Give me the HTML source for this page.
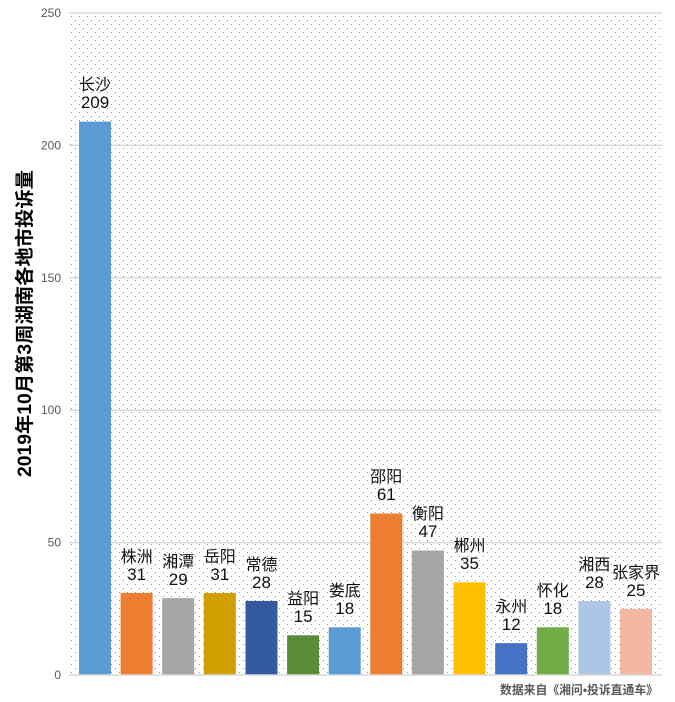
<!DOCTYPE html>
<html><head><meta charset="utf-8"><style>
html,body{margin:0;padding:0;background:#fff;}
svg{display:block;font-family:"Liberation Sans","Noto Sans CJK SC",sans-serif;}
</style></head><body>
<svg width="675" height="702" viewBox="0 0 675 702" xmlns="http://www.w3.org/2000/svg">
<defs>
<pattern id="dots" x="0" y="0" width="8" height="8" patternUnits="userSpaceOnUse">
<rect x="7" y="0" width="1" height="1" fill="#6a98d6"/>
<rect x="3" y="4" width="1" height="1" fill="#6a98d6"/>
</pattern>
</defs>
<rect x="0" y="0" width="675" height="702" fill="#fff"/>
<rect x="69" y="14" width="593" height="661" fill="url(#dots)"/>
<g stroke="#d9d9d9" stroke-width="1.5">
<line x1="69" y1="13" x2="662" y2="13"/>
<line x1="69" y1="145.4" x2="662" y2="145.4"/>
<line x1="69" y1="277.8" x2="662" y2="277.8"/>
<line x1="69" y1="410.2" x2="662" y2="410.2"/>
<line x1="69" y1="542.6" x2="662" y2="542.6"/>
</g>
<g font-size="12" fill="#595959" text-anchor="end">
<text x="61" y="17">250</text>
<text x="61" y="149.4">200</text>
<text x="61" y="281.8">150</text>
<text x="61" y="414.2">100</text>
<text x="61" y="546.6">50</text>
<text x="61" y="679">0</text>
</g>
<g>
<rect x="79" y="121.6" width="32" height="553.4" fill="#5b9bd5"/>
<rect x="120.6" y="592.9" width="32" height="82.1" fill="#ed7d31"/>
<rect x="162.2" y="598.2" width="32" height="76.8" fill="#a5a5a5"/>
<rect x="203.8" y="592.9" width="32" height="82.1" fill="#d29f00"/>
<rect x="245.5" y="600.9" width="32" height="74.1" fill="#335aa0"/>
<rect x="287.1" y="635.3" width="32" height="39.7" fill="#5a8c3a"/>
<rect x="328.7" y="627.3" width="32" height="47.7" fill="#5b9bd5"/>
<rect x="370.3" y="513.5" width="32" height="161.5" fill="#ed7d31"/>
<rect x="411.9" y="550.5" width="32" height="124.5" fill="#a5a5a5"/>
<rect x="453.5" y="582.3" width="32" height="92.7" fill="#ffc000"/>
<rect x="495.2" y="643.2" width="32" height="31.8" fill="#4472c4"/>
<rect x="536.8" y="627.3" width="32" height="47.7" fill="#70ad47"/>
<rect x="578.4" y="600.9" width="32" height="74.1" fill="#adc6e6"/>
<rect x="620" y="608.8" width="32" height="66.2" fill="#f4b8a2"/>
</g>
<line x1="69" y1="675" x2="662" y2="675" stroke="#d9d9d9" stroke-width="1.5"/>
<g font-size="16" fill="#111" text-anchor="middle">
<text x="95" y="90">长沙</text>
<text x="136.6" y="562">株洲</text>
<text x="178.2" y="567">湘潭</text>
<text x="219.8" y="562">岳阳</text>
<text x="261.5" y="570">常德</text>
<text x="303.1" y="604">益阳</text>
<text x="344.7" y="596">娄底</text>
<text x="386.3" y="482">邵阳</text>
<text x="427.9" y="519">衡阳</text>
<text x="469.5" y="551">郴州</text>
<text x="511.2" y="612">永州</text>
<text x="552.8" y="596">怀化</text>
<text x="594.4" y="570">湘西</text>
<text x="636" y="578">张家界</text>
</g>
<g font-size="17" fill="#111" text-anchor="middle">
<text x="95" y="108">209</text>
<text x="136.6" y="580">31</text>
<text x="178.2" y="585">29</text>
<text x="219.8" y="580">31</text>
<text x="261.5" y="588">28</text>
<text x="303.1" y="622">15</text>
<text x="344.7" y="614">18</text>
<text x="386.3" y="500">61</text>
<text x="427.9" y="537">47</text>
<text x="469.5" y="569">35</text>
<text x="511.2" y="630">12</text>
<text x="552.8" y="614">18</text>
<text x="594.4" y="588">28</text>
<text x="636" y="596">25</text>
</g>
<text transform="translate(31,477) rotate(-90)" font-size="19" font-weight="bold" fill="#000" textLength="307" lengthAdjust="spacingAndGlyphs">2019年10月第3周湖南各地市投诉量</text>
<text x="658" y="694" font-size="12" font-weight="bold" fill="#595959" text-anchor="end" textLength="158" lengthAdjust="spacingAndGlyphs">数据来自《湘问•投诉直通车》</text>
</svg>
</body></html>
